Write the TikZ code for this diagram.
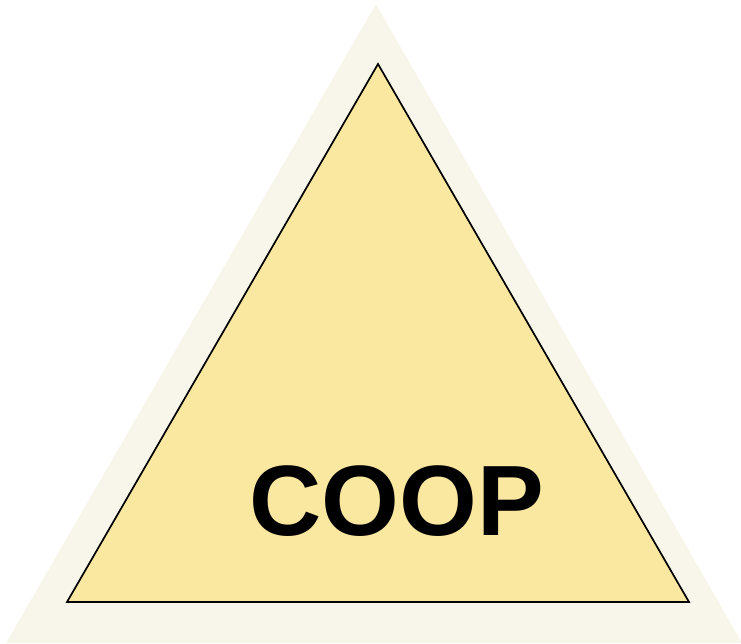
\documentclass[tikz,border=0pt]{standalone}
\usepackage{fontspec}
\setmainfont{Liberation Sans}
\definecolor{outerc}{HTML}{F8F6EA}
\definecolor{innerc}{HTML}{FAE8A0}
\begin{document}
\begin{tikzpicture}[x=1pt,y=-1pt,
  outertri/.style={fill=outerc,draw=none},
  innertri/.style={fill=innerc,draw=black,line width=1.7pt,line join=miter},
  label/.style={font=\fontsize{100}{110}\selectfont\bfseries,inner sep=0pt,anchor=base}]
\useasboundingbox (0,0) rectangle (741,643);
\coordinate (oa) at (376,4);
\coordinate (ol) at (6,643);
\coordinate (or) at (742,643);
\coordinate (ia) at (378,64);
\coordinate (il) at (67,602);
\coordinate (ir) at (689,602);
\fill[outertri] (oa) -- (ol) -- (or) -- cycle;
\draw[innertri] (ia) -- (il) -- (ir) -- cycle;
\node[label] (coop) at (396.5,535) {COOP};
\end{tikzpicture}
\end{document}
